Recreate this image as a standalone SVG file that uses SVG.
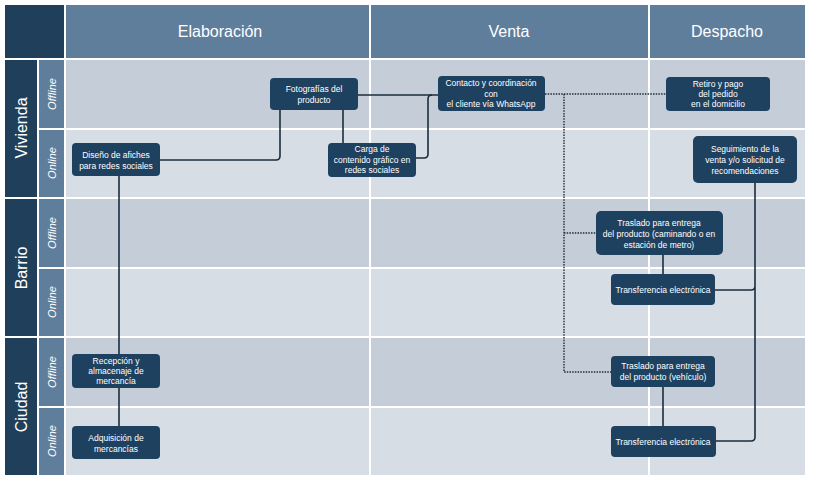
<svg xmlns="http://www.w3.org/2000/svg" width="814" height="483" viewBox="0 0 814 483">
<style>
text{font-family:"Liberation Sans",Arial,sans-serif}
.n rect{fill:#1f4160}
.n text{fill:#fff;font-size:8.5px;text-anchor:middle}
.hd{fill:#5f7e9c}
.dk{fill:#1f3f5a}
.ht{fill:#fff;font-size:16px;text-anchor:middle}
.rt{fill:#fff;font-size:16px;text-anchor:middle}
.st{fill:#fff;font-size:11px;font-style:italic;text-anchor:middle}
.off{fill:#c5ced8}.on{fill:#d7dde4}
.c path{fill:none;stroke:#1a2d3e;stroke-width:1.6}
.c .d{stroke-dasharray:1.5 1.2;stroke-width:1.4}
</style>
<rect width="814" height="483" fill="#fff"/>
<g id="grid">
<rect class="dk" x="5" y="5" width="59" height="53"/>
<rect class="hd" x="66" y="5" width="303" height="53"/>
<rect class="hd" x="371" y="5" width="277" height="53"/>
<rect class="hd" x="650" y="5" width="155" height="53"/>
<text class="ht" x="220" y="37">Elaboración</text>
<text class="ht" x="509" y="37">Venta</text>
<text class="ht" x="727" y="37">Despacho</text>
<rect class="dk" x="5" y="60" width="32" height="137"/>
<rect class="dk" x="5" y="199" width="32" height="137"/>
<rect class="dk" x="5" y="338" width="32" height="137"/>
<text class="rt" transform="translate(27,128) rotate(-90)">Vivienda</text>
<text class="rt" transform="translate(27,268) rotate(-90)">Barrio</text>
<text class="rt" transform="translate(27,407) rotate(-90)">Ciudad</text>
<g class="hd">
<rect x="39" y="60" width="25" height="68"/><rect x="39" y="130" width="25" height="67"/>
<rect x="39" y="199" width="25" height="68"/><rect x="39" y="269" width="25" height="67"/>
<rect x="39" y="338" width="25" height="68"/><rect x="39" y="408" width="25" height="67"/>
</g>
<text class="st" transform="translate(56,94) rotate(-90)">Offline</text>
<text class="st" transform="translate(56,163) rotate(-90)">Online</text>
<text class="st" transform="translate(56,233) rotate(-90)">Offline</text>
<text class="st" transform="translate(56,302) rotate(-90)">Online</text>
<text class="st" transform="translate(56,372) rotate(-90)">Offline</text>
<text class="st" transform="translate(56,441) rotate(-90)">Online</text>
<g>
<rect class="off" x="66" y="60" width="303" height="68"/><rect class="off" x="371" y="60" width="277" height="68"/><rect class="off" x="650" y="60" width="155" height="68"/>
<rect class="on" x="66" y="130" width="303" height="67"/><rect class="on" x="371" y="130" width="277" height="67"/><rect class="on" x="650" y="130" width="155" height="67"/>
<rect class="off" x="66" y="199" width="303" height="68"/><rect class="off" x="371" y="199" width="277" height="68"/><rect class="off" x="650" y="199" width="155" height="68"/>
<rect class="on" x="66" y="269" width="303" height="67"/><rect class="on" x="371" y="269" width="277" height="67"/><rect class="on" x="650" y="269" width="155" height="67"/>
<rect class="off" x="66" y="338" width="303" height="68"/><rect class="off" x="371" y="338" width="277" height="68"/><rect class="off" x="650" y="338" width="155" height="68"/>
<rect class="on" x="66" y="408" width="303" height="67"/><rect class="on" x="371" y="408" width="277" height="67"/><rect class="on" x="650" y="408" width="155" height="67"/>
</g>
</g>
<g id="connectors" class="c">
<path d="M160 160 H276 Q280 160 280 156 V110"/>
<path d="M358 95 H438"/>
<path d="M343 110 V143"/>
<path d="M416 158 H424 Q428 158 428 154 V99 Q428 95 432 95"/>
<path d="M119 176 V354 M119 388 V426"/>
<path class="d" d="M545 94 H666 M564 94 V372 H611 M564 233 H596"/>
<path d="M663 255 V274 M663 387 V426"/>
<path d="M755 183 V437 Q755 441 751 441 H716 M755 286 Q755 290 751 290 H715"/>
</g>
<g id="n1" class="n"><rect x="270" y="78" width="88" height="32" rx="4"/><text x="314" y="92">Fotografías del</text><text x="314" y="103">producto</text></g>
<g id="n2" class="n"><rect x="438" y="76" width="107" height="35" rx="4"/><text x="491" y="86">Contacto y coordinación</text><text x="491" y="97">con</text><text x="491" y="107">el cliente vía WhatsApp</text></g>
<g id="n3" class="n"><rect x="666" y="77" width="104" height="34" rx="4"/><text x="718" y="87">Retiro y pago</text><text x="718" y="97">del pedido</text><text x="718" y="107">en el  domicilio</text></g>
<g id="n4" class="n"><rect x="72" y="143" width="88" height="33" rx="4"/><text x="116" y="158">Diseño de afiches</text><text x="116" y="169">para redes sociales</text></g>
<g id="n5" class="n"><rect x="328" y="143" width="88" height="34" rx="4"/><text x="372" y="152">Carga de</text><text x="372" y="163">contenido gráfico en</text><text x="372" y="173">redes sociales</text></g>
<g id="n6" class="n"><rect x="693" y="136" width="104" height="47" rx="5"/><text x="745" y="152">Seguimiento de la</text><text x="745" y="163">venta y/o solicitud de</text><text x="745" y="174">recomendaciones</text></g>
<g id="n7" class="n"><rect x="596" y="211" width="127" height="44" rx="5"/><text x="659" y="226">Traslado para entrega</text><text x="659" y="237">del producto (caminando o en</text><text x="659" y="248">estación de metro)</text></g>
<g id="n8" class="n"><rect x="611" y="274" width="104" height="31" rx="4"/><text x="663" y="293">Transferencia electrónica</text></g>
<g id="n9" class="n"><rect x="72" y="354" width="88" height="34" rx="4"/><text x="116" y="364">Recepción y</text><text x="116" y="374">almacenaje de</text><text x="116" y="384">mercancía</text></g>
<g id="n10" class="n"><rect x="611" y="356" width="104" height="31" rx="4"/><text x="663" y="369">Traslado para entrega</text><text x="663" y="380">del producto (vehículo)</text></g>
<g id="n11" class="n"><rect x="72" y="426" width="88" height="33" rx="4"/><text x="116" y="441">Adquisición de</text><text x="116" y="452">mercancías</text></g>
<g id="n12" class="n"><rect x="611" y="426" width="105" height="31" rx="4"/><text x="663" y="445">Transferencia electrónica</text></g>
</svg>
